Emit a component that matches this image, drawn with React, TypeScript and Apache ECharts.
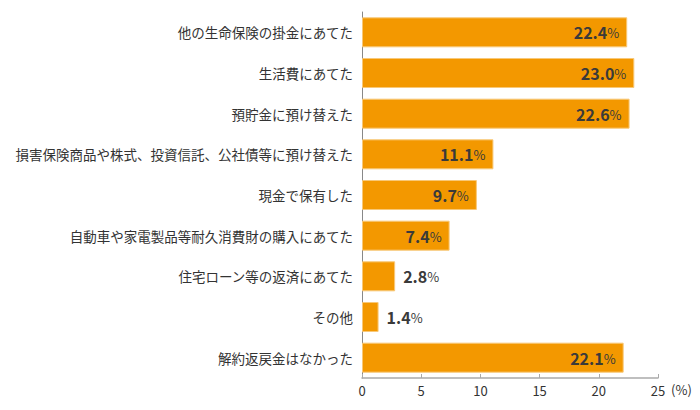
import React, { useEffect, useRef } from 'react';
import * as echarts from 'echarts';

// 項目（上から順）
const categories = [
  '他の生命保険の掛金にあてた',
  '生活費にあてた',
  '預貯金に預け替えた',
  '損害保険商品や株式、投資信託、公社債等に預け替えた',
  '現金で保有した',
  '自動車や家電製品等耐久消費財の購入にあてた',
  '住宅ローン等の返済にあてた',
  'その他',
  '解約返戻金はなかった',
];
const values = [22.4, 23.0, 22.6, 11.1, 9.7, 7.4, 2.8, 1.4, 22.1];
const xTicks = [0, 5, 10, 15, 20, 25];

const FONT = '"Noto Sans CJK JP", "Noto Sans", sans-serif';

const App: React.FC = () => {
  const chartRef = useRef<HTMLDivElement>(null);

  useEffect(() => {
    if (!chartRef.current) return;
    const chart = echarts.init(chartRef.current, undefined, { renderer: 'svg' });

    // ECharts のカテゴリ軸は下から並ぶので反転
    const cats = [...categories].reverse();
    const vals = [...values].reverse();

    const option: any = {
      animation: false,
      textStyle: { fontFamily: FONT },
      grid: { left: 362, right: 42, top: 12, bottom: 32, containLabel: false },
      xAxis: {
        type: 'value',
        min: xTicks[0],
        max: xTicks[xTicks.length - 1],
        interval: 5,
        name: '(%)',
        nameLocation: 'end',
        nameGap: 10,
        nameTextStyle: {
          color: '#333',
          fontSize: 13,
          verticalAlign: 'top',
          padding: [5, 0, 0, 0],
        },
        axisLine: { show: true, lineStyle: { color: '#aaa', width: 1.5 } },
        axisTick: { show: true, inside: true, length: 4, lineStyle: { color: '#aaa' } },
        axisLabel: { color: '#333', fontSize: 13, margin: 6 },
        splitLine: { show: false },
      },
      yAxis: {
        type: 'category',
        data: cats,
        axisLine: { show: true, lineStyle: { color: '#888', width: 1 } },
        axisTick: { show: false },
        axisLabel: { color: '#333', fontSize: 13.5, margin: 9 },
      },
      series: [
        {
          type: 'bar',
          barWidth: 30,
          data: vals.map((v) => ({
            value: v,
            label: v > 5
              ? { position: 'insideRight', distance: 8 }
              : { position: 'right', distance: 8 },
          })),
          itemStyle: {
            color: '#F39800',
            borderColor: '#F8C878',
            borderWidth: 1,
          },
          label: {
            show: true,
            formatter: (p: any) => `{v|${p.value.toFixed(1)}}{p|%}`,
            rich: {
              v: { fontSize: 16, fontWeight: 'bold', color: '#3a3a3a', fontFamily: FONT },
              p: { fontSize: 13, color: '#3a3a3a', fontFamily: FONT, padding: [1, 0, 0, 0] },
            },
          },
        },
      ],
    };

    chart.setOption(option);
    return () => {
      chart.dispose();
    };
  }, []);

  return <div ref={chartRef} style={{ width: 700, height: 410, margin: -8 }} />;
};

export default App;
